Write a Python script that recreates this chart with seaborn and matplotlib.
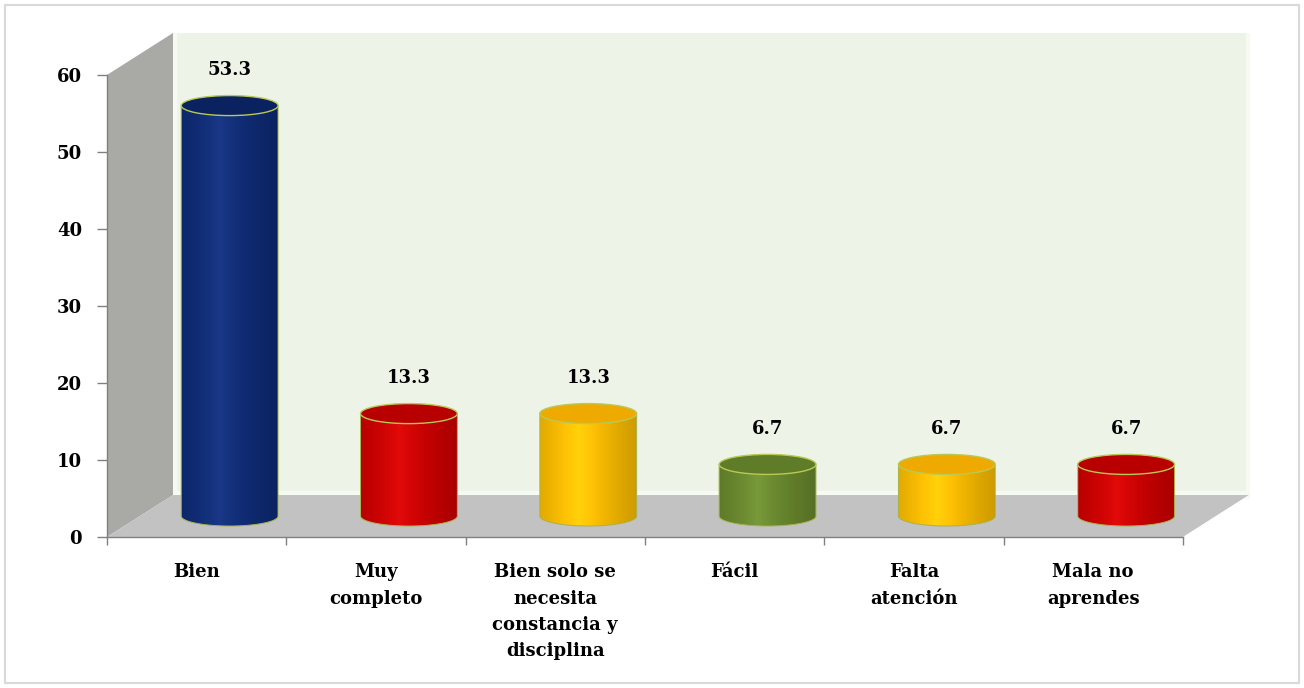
import numpy as np
import pandas as pd
import seaborn as sns
import matplotlib.pyplot as plt
from matplotlib.patches import Polygon, Ellipse, PathPatch, Rectangle
from matplotlib.path import Path
from matplotlib.colors import to_rgb

# Data
categories = ['Bien', 'Muy completo', 'Bien solo se necesita constancia y disciplina',
              'Fácil', 'Falta atención', 'Mala no aprendes']
tick_labels = ['Bien', 'Muy\ncompleto', 'Bien solo se\nnecesita\nconstancia y\ndisciplina',
               'Fácil', 'Falta\natención', 'Mala no\naprendes']
values = [53.3, 13.3, 13.3, 6.7, 6.7, 6.7]
colors = ['#0f2c78', '#d00000', '#ffc000', '#6a8a2e', '#ffc000', '#d00000']
top_colors = ['#0b2260', '#b80000', '#eeaa00', '#5f7d28', '#eeaa00', '#b80000']

df = pd.DataFrame({'cat': categories, 'val': values})

sns.set_theme(style='white')
plt.rcParams['font.family'] = ['DejaVu Serif']
plt.rcParams['font.weight'] = 'bold'
plt.rcParams['text.color'] = 'black'
plt.rcParams['xtick.labelcolor'] = 'black'
plt.rcParams['ytick.labelcolor'] = 'black'
FS = 13

fig = plt.figure(figsize=(13.04, 6.88), dpi=100)
ax = fig.add_axes([107 / 1304, 151 / 688, 1143 / 1304, 504 / 688])

# fake 3d depth, in data units
depth_x, depth_y = 0.368, 5.45
mid_x, mid_y = depth_x / 2, depth_y / 2
bar_w = 0.54
ell_h = 2.6
x_right = -0.5 + 1143 / 179.3

# back wall, side wall, floor
ax.add_patch(Rectangle((-0.5 + depth_x, depth_y), x_right - (-0.5 + depth_x), 70,
                       facecolor='#eef3e7', edgecolor='#f7faf3', lw=6, zorder=0))
ax.add_patch(Polygon([(-0.5, 0), (-0.5, 60), (-0.5 + depth_x, 60 + depth_y),
                      (-0.5 + depth_x, depth_y)], closed=True,
                     facecolor='#a9a9a5', edgecolor='none', zorder=1, clip_on=False))
ax.add_patch(Polygon([(-0.5, 0), (5.5, 0), (5.5 + depth_x, depth_y),
                      (-0.5 + depth_x, depth_y)], closed=True,
                     facecolor='#c2c2c2', edgecolor='none', zorder=1))

sns.barplot(data=df, x='cat', y='val', hue='cat', palette=colors, legend=False,
            saturation=1, width=bar_w, ax=ax, zorder=3)

# move bars to mid depth and give them a cylinder look
t = np.linspace(0, 1, 200)
k = np.clip(1 - np.abs(t - 0.4) / 0.62, 0, 1)
bars = [p for p in ax.patches if isinstance(p, Rectangle) and p.get_height() in values]
for i, bar in enumerate(bars):
    bar.set_x(bar.get_x() + mid_x)
    bar.set_y(mid_y)
    x0, w, h = bar.get_x(), bar.get_width(), bar.get_height()
    xc, top = x0 + w / 2, mid_y + h
    base = np.array(to_rgb(colors[i]))
    shade = base[None, :] * (0.80 + 0.24 * k[:, None]) + 0.04 * (k[:, None] ** 3)
    img = np.clip(shade, 0, 1)[None, :, :]

    ang = np.linspace(np.pi, 2 * np.pi, 60)
    verts = [(x0, top), (x0, mid_y)]
    verts += list(zip(xc + w / 2 * np.cos(ang), mid_y + ell_h / 2 * np.sin(ang)))
    verts += [(x0 + w, top), (x0, top)]
    body = PathPatch(Path(verts, closed=True), facecolor='none',
                     edgecolor='#a7b34c', lw=0.7, zorder=4)
    ax.add_patch(body)
    im = ax.imshow(img, extent=(x0, x0 + w, mid_y - ell_h / 2, top), origin='lower',
                   aspect='auto', zorder=3.5)
    im.set_clip_path(body)
    ax.add_patch(Ellipse((xc, top), w, ell_h, facecolor=top_colors[i],
                         edgecolor='#b9c955', lw=1.0, zorder=5))
    bar.set_visible(False)

for c, v in zip(ax.containers, values):
    labels = ax.bar_label(c, labels=[f'{v:.1f}'], padding=19, fontsize=FS,
                          fontweight='bold', color='black')
    for lab in labels:
        lab.set_zorder(6)

# axes styling
ax.set_xlim(-0.5, x_right)
ax.set_ylim(0, 60 + depth_y)
ax.set_yticks(range(0, 61, 10))
ax.set_xticks(range(len(categories)))
ax.set_xticklabels(tick_labels, fontsize=FS, fontweight='bold', linespacing=1.58)
ax.set_xticks(np.arange(-0.5, 6, 1), minor=True)
ax.tick_params(axis='x', which='major', length=0, pad=19)
ax.tick_params(axis='x', which='minor', length=6, width=1, color='#808080', bottom=True)
ax.tick_params(axis='y', length=7, width=1, color='#808080', pad=11, left=True,
               labelsize=FS)
for lab in ax.get_yticklabels():
    lab.set_fontweight('bold')
ax.set_xlabel('')
ax.set_ylabel('')
for s in ['top', 'right']:
    ax.spines[s].set_visible(False)
ax.spines['left'].set_bounds(0, 60)
ax.spines['bottom'].set_bounds(-0.5, 5.5)
for s in ['left', 'bottom']:
    ax.spines[s].set_color('#808080')
    ax.spines[s].set_linewidth(1)
    ax.spines[s].set_zorder(2)
ax.set_facecolor('none')

fig.add_artist(Rectangle((0.004, 0.007), 0.992, 0.986, transform=fig.transFigure,
                         fill=False, edgecolor='#d9d9d9', lw=1.5))

fig.savefig('out.png', dpi=100)
